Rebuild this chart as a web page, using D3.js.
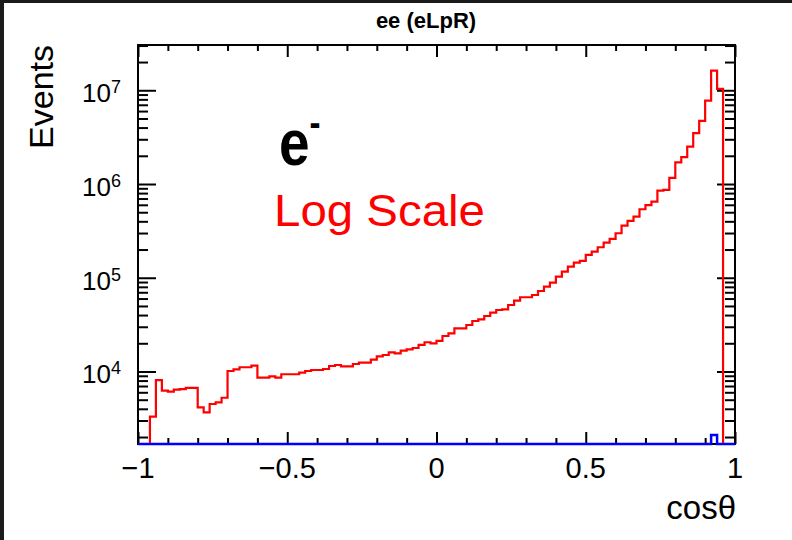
<!DOCTYPE html>
<html>
<head>
<meta charset="utf-8">
<script src="https://cdn.jsdelivr.net/npm/d3@7"></script>
<style>
body{margin:0;background:#1b1b1b;}
svg{display:block;}
text{font-family:"Liberation Sans",Arial,Helvetica,sans-serif;}
</style>
</head>
<body>
<div id="chart"></div>
<script>
// cos(theta) histogram, 100 bins from -1 to 1
var nBins = 100;
var xLow = -1, xHigh = 1;

// red histogram (0 = empty bin)
var redCounts = [
  0, 0, 3300, 8100, 6250, 6100, 6400, 6500, 6700, 6700,
  4150, 3670, 4500, 4690, 5250, 10120, 10550, 11100, 11100, 11540,
  8590, 8590, 8890, 8590, 9350, 9350, 9350, 9710, 10120, 10370,
  10370, 10630, 11450, 11730, 11360, 11360, 12020, 12420, 12420, 13360,
  14530, 15000, 16030, 15630, 16670, 17260, 17820, 19190, 20500, 20000,
  21180, 23930, 25570, 28900, 28900, 31330, 34570, 36060, 39100, 42430,
  45320, 46100, 51240, 56970, 61960, 61960, 65500, 72260, 80400, 88700,
  102800, 116200, 131300, 144900, 151100, 175000, 190000, 211500, 237000, 259500,
  298500, 360000, 404000, 449000, 538000, 594000, 649000, 851000, 865000, 1162000,
  1699000, 1931000, 2506000, 3484000, 4712000, 7757000, 16220000, 10350000, 0, 0
];
// blue histogram: empty except one bin near cos = 0.93
var blueCounts = [];
for(var i=0;i<nBins;i++) blueCounts.push(0);
blueCounts[96] = 2100;

var xMajor = [-1, -0.5, 0, 0.5, 1];
var xMajorLabels = ["\u22121", "\u22120.5", "0", "0.5", "1"];
var yDecades = [4, 5, 6, 7];
var yRange = [1685, 3.04e7];

var titleText = "ee (eLpR)";
var xTitle = "cos\u03b8";
var yTitle = "Events";
var particle = "e";
var scaleNote = "Log Scale";

var W = 792, H = 540;
var frame = {left:138, right:735, top:45, bottom:444};

var svg = d3.select("#chart").append("svg")
  .attr("width", W)
  .attr("height", H);

// white canvas inside the dark window edge
svg.append("rect")
  .attr("x", 4).attr("y", 3)
  .attr("width", W-4).attr("height", H-3)
  .attr("fill", "#ffffff");

var x = d3.scaleLinear().domain([xLow, xHigh]).range([frame.left, frame.right]);
var y = d3.scaleLog().domain(yRange).range([frame.bottom, frame.top]);

var binWidth = (xHigh-xLow)/nBins;

function stepPoints(counts){
  var pts = [];
  counts.forEach(function(c,i){
    var lo = xLow + i*binWidth;
    var v = Math.max(c, yRange[0]);   // empty bins sit on the frame bottom
    pts.push([lo, v]);
    pts.push([lo+binWidth, v]);
  });
  return pts;
}

var stepLine = d3.line()
  .x(function(d){ return x(d[0]); })
  .y(function(d){ return y(d[1]); });

// ticks
var xMinor = d3.range(-10, 11).map(function(k){ return k/10; })
  .filter(function(v){ return xMajor.indexOf(v) < 0; });
var yAll = y.ticks();
var yMinor = yAll.filter(function(v){ return Math.abs(Math.log10(v) - Math.round(Math.log10(v))) > 1e-6; });
var yMajor = yDecades.map(function(p){ return Math.pow(10,p); });

var axes = svg.append("g").attr("class","axes");

function tickAxis(axisFn, scale, vals, size, tx, ty){
  var g = axes.append("g")
    .attr("transform","translate("+tx+","+ty+")")
    .call(axisFn(scale).tickValues(vals).tickSize(size).tickFormat(""));
  g.select(".domain").remove();
  g.selectAll("line").attr("stroke","#000").attr("stroke-width",2);
}
tickAxis(d3.axisBottom, x, xMajor, -12, 0, frame.bottom);
tickAxis(d3.axisBottom, x, xMinor, -6, 0, frame.bottom);
tickAxis(d3.axisTop, x, xMajor, -12, 0, frame.top);
tickAxis(d3.axisTop, x, xMinor, -6, 0, frame.top);
tickAxis(d3.axisLeft, y, yMajor, -18, frame.left, 0);
tickAxis(d3.axisLeft, y, yMinor, -10, frame.left, 0);
tickAxis(d3.axisRight, y, yMajor, -18, frame.right, 0);
tickAxis(d3.axisRight, y, yMinor, -10, frame.right, 0);

// frame
svg.append("rect")
  .attr("x", frame.left).attr("y", frame.top)
  .attr("width", frame.right-frame.left)
  .attr("height", frame.bottom-frame.top)
  .attr("fill","none")
  .attr("stroke","#000")
  .attr("stroke-width",2);

// histograms
svg.append("path")
  .attr("d", stepLine(stepPoints(redCounts)))
  .attr("fill","none")
  .attr("stroke","#ff0000")
  .attr("stroke-width",2.2);

svg.append("path")
  .attr("d", stepLine(stepPoints(blueCounts)))
  .attr("fill","none")
  .attr("stroke","#0000ff")
  .attr("stroke-width",2.5);

// x tick labels
svg.selectAll(".xlab")
  .data(xMajor)
  .enter().append("text")
  .attr("class","xlab")
  .attr("x", function(d){ return x(d); })
  .attr("y", 478)
  .attr("text-anchor","middle")
  .attr("font-size", 29)
  .text(function(d,i){ return xMajorLabels[i]; });

// y tick labels 10^n
var ylab = svg.selectAll(".ylab")
  .data(yDecades)
  .enter().append("text")
  .attr("class","ylab")
  .attr("x", 121)
  .attr("y", function(d){ return y(Math.pow(10,d)) + 12; })
  .attr("text-anchor","end")
  .attr("font-size", 26);
ylab.append("tspan").text("10");
ylab.append("tspan")
  .attr("dy", -9)
  .attr("font-size", 18)
  .text(function(d){ return d; });

// titles
svg.append("text")
  .attr("x", 426).attr("y", 28)
  .attr("text-anchor","middle")
  .attr("font-size", 22)
  .attr("font-weight","bold")
  .text(titleText);

svg.append("text")
  .attr("x", 736).attr("y", 519)
  .attr("text-anchor","end")
  .attr("font-size", 33)
  .text(xTitle);

svg.append("text")
  .attr("transform","translate(53,45) rotate(-90)")
  .attr("text-anchor","end")
  .attr("font-size", 34)
  .text(yTitle);

// e- label
var eg = svg.append("text")
  .attr("transform","translate(279,165) scale(1.1,1.3)")
  .attr("font-family","'DejaVu Sans',sans-serif")
  .attr("font-weight","bold")
  .attr("font-size", 50);
eg.append("tspan").text(particle);
eg.append("tspan")
  .attr("dy", -22)
  .attr("font-size", 30)
  .text("-");

svg.append("text")
  .attr("x", 274).attr("y", 226)
  .attr("font-family","Lato,'Open Sans',sans-serif")
  .attr("font-weight", 300)
  .attr("font-size", 44)
  .attr("fill","#ff0000")
  .attr("textLength", 211)
  .attr("lengthAdjust","spacingAndGlyphs")
  .text(scaleNote);
</script>
</body>
</html>
